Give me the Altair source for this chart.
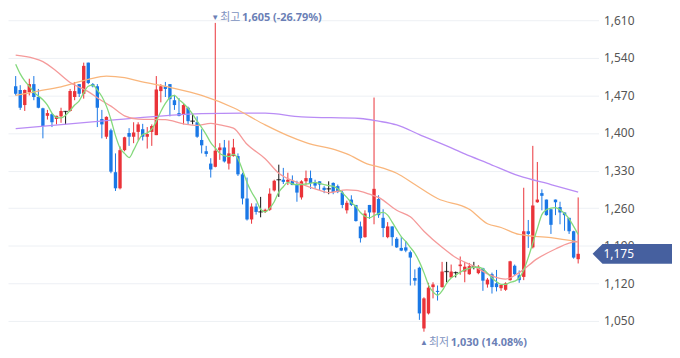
import altair as alt
import pandas as pd
import numpy as np

# ---- daily candles ----
opens = [1487, 1480, 1452, 1476, 1491, 1467, 1446, 1432, 1435, 1426,
         1431, 1440, 1441, 1467, 1491, 1473, 1531, 1491, 1487, 1426,
         1393, 1405, 1327, 1297, 1368, 1400, 1393, 1402, 1407, 1393,
         1402, 1396, 1478, 1487, 1491, 1461, 1437, 1435, 1447, 1422,
         1420, 1387, 1366, 1343, 1337, 1368, 1373, 1343, 1357, 1357,
         1323, 1278, 1239, 1263, 1253, 1253, 1257, 1293, 1313, 1313,
         1309, 1311, 1303, 1280, 1310, 1316, 1307, 1310, 1298, 1296,
         1307, 1301, 1289, 1256, 1276, 1266, 1226, 1206, 1266, 1252,
         1277, 1242, 1206, 1226, 1203, 1186, 1187, 1178, 1130, 1149,
         1036, 1064, 1113, 1106, 1113, 1142, 1131, 1140, 1152, 1142,
         1137, 1151, 1139, 1148, 1118, 1137, 1120, 1111, 1108, 1126,
         1153, 1135, 1132, 1217, 1187, 1271, 1288, 1276, 1258, 1276,
         1262, 1252, 1242, 1217, 1165]
highs = [1506, 1489, 1481, 1501, 1506, 1482, 1447, 1443, 1437, 1432,
         1447, 1441, 1482, 1495, 1491, 1531, 1531, 1493, 1491, 1443,
         1431, 1408, 1362, 1375, 1393, 1409, 1420, 1420, 1417, 1411,
         1416, 1506, 1491, 1495, 1491, 1471, 1465, 1455, 1449, 1435,
         1431, 1407, 1376, 1353, 1605, 1381, 1387, 1386, 1389, 1362,
         1326, 1317, 1269, 1269, 1281, 1259, 1297, 1313, 1341, 1335,
         1326, 1321, 1311, 1312, 1330, 1330, 1313, 1310, 1301, 1310,
         1308, 1304, 1292, 1274, 1284, 1266, 1235, 1256, 1266, 1466,
         1284, 1258, 1234, 1226, 1206, 1206, 1199, 1181, 1146, 1151,
         1094, 1121, 1122, 1116, 1160, 1160, 1155, 1142, 1170, 1160,
         1158, 1160, 1154, 1149, 1130, 1140, 1145, 1117, 1122, 1162,
         1155, 1144, 1298, 1238, 1376, 1346, 1295, 1276, 1259, 1276,
         1272, 1252, 1242, 1218, 1280]
lows = [1470, 1443, 1441, 1470, 1461, 1446, 1390, 1425, 1411, 1416,
        1419, 1416, 1440, 1461, 1467, 1464, 1491, 1485, 1411, 1390,
        1389, 1325, 1292, 1295, 1366, 1376, 1381, 1386, 1386, 1371,
        1376, 1396, 1457, 1467, 1431, 1443, 1431, 1416, 1416, 1416,
        1391, 1362, 1356, 1317, 1336, 1350, 1345, 1332, 1356, 1320,
        1267, 1237, 1231, 1248, 1243, 1251, 1255, 1291, 1281, 1305,
        1303, 1303, 1272, 1276, 1304, 1296, 1296, 1294, 1288, 1286,
        1286, 1288, 1260, 1250, 1264, 1235, 1196, 1205, 1240, 1230,
        1242, 1206, 1204, 1190, 1186, 1180, 1178, 1116, 1116, 1052,
        1030, 1062, 1092, 1088, 1112, 1122, 1130, 1131, 1136, 1122,
        1136, 1146, 1137, 1106, 1112, 1101, 1105, 1106, 1106, 1125,
        1135, 1121, 1126, 1186, 1185, 1270, 1256, 1246, 1212, 1247,
        1230, 1218, 1212, 1166, 1157]
closes = [1473, 1447, 1480, 1491, 1467, 1447, 1413, 1437, 1420, 1432,
          1441, 1440, 1478, 1478, 1473, 1525, 1493, 1487, 1447, 1416,
          1430, 1328, 1297, 1368, 1392, 1393, 1401, 1416, 1393, 1398,
          1413, 1481, 1487, 1482, 1463, 1452, 1432, 1452, 1422, 1422,
          1393, 1377, 1361, 1332, 1367, 1373, 1347, 1362, 1373, 1323,
          1278, 1239, 1263, 1253, 1253, 1257, 1287, 1311, 1313, 1309,
          1313, 1303, 1289, 1310, 1316, 1307, 1302, 1304, 1294, 1296,
          1290, 1290, 1266, 1270, 1266, 1236, 1204, 1250, 1252, 1296,
          1247, 1223, 1226, 1206, 1187, 1181, 1181, 1168, 1125, 1064,
          1092, 1112, 1118, 1104, 1142, 1142, 1142, 1140, 1155, 1151,
          1152, 1151, 1151, 1125, 1127, 1113, 1113, 1117, 1120, 1161,
          1137, 1126, 1217, 1212, 1265, 1276, 1283, 1247, 1229, 1271,
          1252, 1247, 1217, 1168, 1175]

# ---- moving averages ----
ma5 = [1528, 1510, 1497, 1487, 1476, 1469, 1462, 1452, 1437, 1429,
       1428, 1433, 1442, 1452, 1460, 1475, 1487, 1489, 1480, 1468,
       1450, 1425, 1395, 1372, 1362, 1354, 1368, 1385, 1397, 1400,
       1407, 1422, 1440, 1455, 1466, 1470, 1462, 1455, 1446, 1435,
       1422, 1410, 1397, 1382, 1372, 1362, 1358, 1356, 1360, 1352,
       1331, 1308, 1290, 1276, 1258, 1253, 1260, 1272, 1290, 1300,
       1308, 1305, 1304, 1304, 1305, 1306, 1308, 1306, 1304, 1302,
       1301, 1296, 1289, 1280, 1270, 1263, 1252, 1245, 1242, 1246,
       1250, 1252, 1247, 1234, 1220, 1207, 1198, 1187, 1176, 1160,
       1140, 1117, 1104, 1098, 1106, 1120, 1130, 1135, 1141, 1145,
       1148, 1150, 1150, 1147, 1139, 1130, 1123, 1118, 1118, 1122,
       1124, 1130, 1145, 1168, 1195, 1222, 1248, 1257, 1260, 1261,
       1257, 1250, 1240, 1226, 1211]
ma20_idx = [0, 4, 6, 9, 12, 16, 19, 21, 24, 27, 33, 37, 40, 43, 45, 48, 51, 55,
            58, 62, 66, 69, 73, 75, 78, 80, 84, 87, 90, 94, 97, 101, 105, 108,
            111, 115, 119, 122, 124]
ma20_val = [1545, 1539, 1533, 1515, 1494, 1477, 1460, 1450, 1432, 1426, 1425,
            1417, 1414, 1418, 1415, 1409, 1379, 1352, 1325, 1308, 1296, 1289,
            1294, 1293, 1286, 1280, 1256, 1244, 1217, 1187, 1168, 1152, 1134,
            1128, 1140, 1166, 1184, 1195, 1198]
ma60_idx = [0, 5, 10, 16, 20, 24, 27, 34, 41, 48, 55, 60, 64, 71, 73, 78, 80,
            84, 88, 93, 100, 104, 107, 111, 118, 124]
ma60_val = [1470, 1478, 1486, 1500, 1506, 1503, 1497, 1485, 1470, 1447, 1415,
            1395, 1382, 1367, 1361, 1341, 1337, 1325, 1304, 1278, 1258, 1231,
            1224, 1211, 1205, 1197]
ma120_idx = [0, 20, 41, 50, 55, 63, 76, 80, 84, 89, 95, 99, 104, 111, 118, 124]
ma120_val = [1408, 1423, 1436, 1437, 1437, 1430, 1427, 1422, 1415, 1397, 1376,
             1361, 1344, 1320, 1304, 1290]

y_ticks = [1050, 1120, 1190, 1260, 1330, 1400, 1470, 1540, 1610]
hi_text = ["최고", "1,605 (-26.79%)"]
lo_text = ["최저", "1,030 (14.08%)"]
last_text = "1,175"

RED = "#ea3339"
BLUE = "#1a78e6"
ANN = "#6b7fb6"
MA_COLORS = {"ma120": "#b98cf5", "ma60": "#f9b67c", "ma20": "#f59a9a", "ma5": "#84d97c"}

n = len(opens)
df = pd.DataFrame({"i": np.arange(n), "open": opens, "high": highs,
                   "low": lows, "close": closes})
df["dir"] = np.where(df.close > df.open, "up",
                     np.where(df.close < df.open, "down", "flat"))

ma_frames = {
    "ma120": pd.DataFrame({"i": ma120_idx, "v": ma120_val}),
    "ma60": pd.DataFrame({"i": ma60_idx, "v": ma60_val}),
    "ma20": pd.DataFrame({"i": ma20_idx, "v": ma20_val}),
    "ma5": pd.DataFrame({"i": np.arange(n), "v": ma5}),
}

xs = alt.Scale(domain=[-0.6, 127.4], nice=False, zero=False)
ys = alt.Scale(domain=[992.71, 1630.33], nice=False, zero=False)
yaxis = alt.Axis(orient="right", values=y_ticks, format=",d", grid=True,
                 gridColor="#edf0f4", gridWidth=1, domain=False, ticks=False,
                 labelPadding=5, labelFontSize=12, labelColor="#555555",
                 labelFont="Noto Sans", title=None)


def X():
    return alt.X("i:Q", scale=xs, axis=None)


def Y(f):
    return alt.Y(f, type="quantitative", scale=ys, axis=yaxis)


col = alt.Color("dir:N", scale=alt.Scale(domain=["up", "down", "flat"],
                                         range=[RED, BLUE, "#111111"]),
                legend=None)

base = alt.Chart(df)
wicks = base.mark_rule(strokeWidth=1).encode(x=X(), y=Y("low"), y2="high:Q", color=col)
bodies = base.mark_bar(size=3.4).encode(x=X(), y=Y("open"), y2="close:Q", color=col)
doji = base.transform_filter("datum.open == datum.close").mark_tick(
    orient="horizontal", size=4.6, thickness=1.3).encode(x=X(), y=Y("open"), color=col)

lines = [alt.Chart(f).mark_line(strokeWidth=1.3, interpolate="monotone",
                                color=MA_COLORS[k]).encode(x=X(), y=Y("v"))
         for k, f in ma_frames.items()]

hi_i = int(np.argmax(highs))
lo_i = int(np.argmin(lows))
ann = pd.DataFrame({"i": [hi_i, lo_i], "v": [highs[hi_i], lows[lo_i]],
                    "tri": ["▼", "▲"], "lab": [hi_text[0], lo_text[0]],
                    "num": [hi_text[1], lo_text[1]], "k": ["hi", "lo"]})
hi = alt.Chart(ann).transform_filter("datum.k == 'hi'")
lo = alt.Chart(ann).transform_filter("datum.k == 'lo'")


def ann_layers(c, dy):
    t1 = c.mark_text(align="center", baseline="middle", dy=dy, fontSize=8,
                     color=ANN, font="Noto Sans").encode(x=X(), y=Y("v"), text="tri:N")
    t2 = c.mark_text(align="left", baseline="middle", dy=dy, dx=5, fontSize=11,
                     color="#8092c0", font="Noto Sans CJK KR").encode(x=X(), y=Y("v"), text="lab:N")
    t3 = c.mark_text(align="left", baseline="middle", dy=dy, dx=27, fontSize=11,
                     fontWeight="bold", color=ANN, font="Noto Sans").encode(x=X(), y=Y("v"), text="num:N")
    return [t1, t2, t3]


tag_df = pd.DataFrame({"v": [closes[-1]], "txt": [last_text]})
TAG = "M-1,0 L-0.75,-0.25 L1,-0.25 L1,0.25 L-0.75,0.25 Z"
tag = alt.Chart(tag_df).mark_point(shape=TAG, filled=True, color="#46609f",
                                   opacity=1, size=6400, strokeWidth=0).encode(
    x=alt.value(629), y=Y("v"))
tag_t = alt.Chart(tag_df).mark_text(align="left", baseline="middle", color="white",
                                    fontSize=12, font="Noto Sans").encode(
    x=alt.value(600), y=Y("v"), text="txt:N")

chart = alt.layer(wicks, bodies, doji, *lines,
                  *ann_layers(hi, -4.5), *ann_layers(lo, 11),
                  tag, tag_t).properties(
    width=595, height=345, padding=0
).configure_view(strokeWidth=0)

chart.save("out.html", embed_options={"renderer": "svg", "actions": False})
